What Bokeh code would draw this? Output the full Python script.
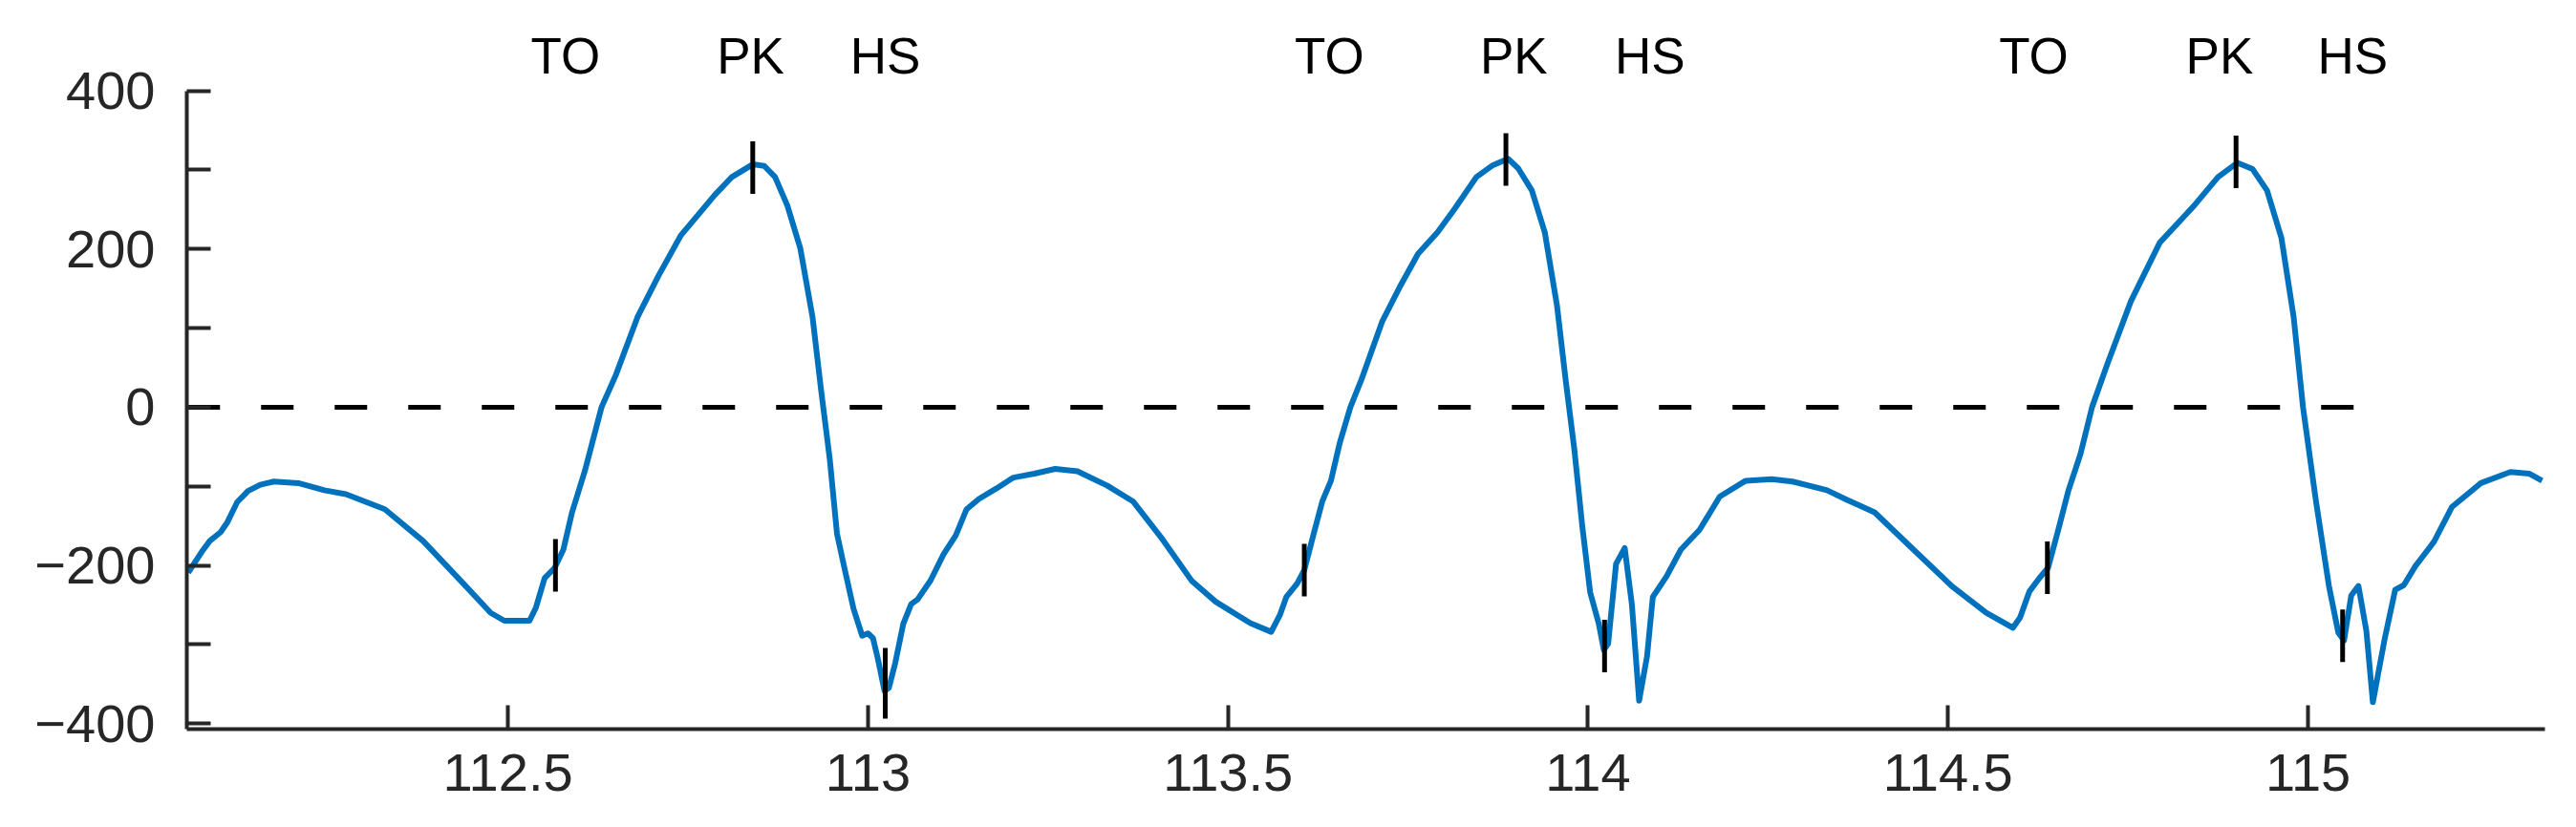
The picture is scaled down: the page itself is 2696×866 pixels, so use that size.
import math
from bokeh.plotting import figure
from bokeh.models import FixedTicker, Range1d, ColumnDataSource
from bokeh.core.properties import value
from bokeh.embed import file_html
from bokeh.resources import INLINE

# ---------------- data ----------------
time_s = [
    112.056, 112.077, 112.086, 112.101, 112.110, 112.124, 112.139, 112.156, 112.175, 112.209,
    112.245, 112.275, 112.329, 112.382, 112.435, 112.476, 112.495, 112.530, 112.539, 112.551,
    112.565, 112.577, 112.589, 112.607, 112.630, 112.650, 112.680, 112.709, 112.740, 112.787,
    112.811, 112.840, 112.856, 112.871, 112.888, 112.906, 112.923, 112.935, 112.947, 112.957,
    112.967, 112.980, 112.992, 113.000, 113.007, 113.014, 113.023, 113.029, 113.038, 113.049,
    113.060, 113.069, 113.087, 113.105, 113.122, 113.137, 113.154, 113.178, 113.202, 113.231,
    113.260, 113.291, 113.332, 113.368, 113.409, 113.450, 113.483, 113.531, 113.560, 113.572,
    113.581, 113.596, 113.606, 113.619, 113.631, 113.643, 113.655, 113.670, 113.685, 113.714,
    113.738, 113.764, 113.791, 113.815, 113.845, 113.868, 113.889, 113.903, 113.922, 113.940,
    113.957, 113.969, 113.981, 113.992, 114.003, 114.015, 114.022, 114.028, 114.039, 114.051,
    114.061, 114.071, 114.082, 114.090, 114.109, 114.129, 114.155, 114.183, 114.219, 114.255,
    114.284, 114.332, 114.357, 114.398, 114.452, 114.505, 114.553, 114.590, 114.600, 114.613,
    114.627, 114.639, 114.654, 114.667, 114.684, 114.700, 114.721, 114.754, 114.794, 114.842,
    114.875, 114.902, 114.923, 114.943, 114.963, 114.980, 114.993, 115.011, 115.029, 115.042,
    115.050, 115.060, 115.070, 115.081, 115.090, 115.106, 115.121, 115.133, 115.149, 115.175,
    115.200, 115.240, 115.281, 115.307, 115.325,
]
signal = [
    -209, -180, -169, -158, -146, -120, -106, -98, -94, -96,
    -105, -110, -129, -169, -220, -260, -270, -270, -253, -216,
    -203, -180, -133, -80, 0, 41, 114, 166, 217, 268,
    291, 307, 305, 291, 255, 201, 114, 21, -66, -160,
    -202, -255, -289, -286, -292, -319, -359, -355, -323, -274,
    -249, -243, -219, -186, -162, -129, -116, -103, -89, -84,
    -78, -81, -99, -119, -167, -220, -246, -273, -284, -263,
    -240, -223, -206, -160, -119, -93, -46, 0, 34, 108,
    151, 194, 221, 251, 291, 306, 314, 302, 274, 221,
    128, 34, -53, -150, -234, -274, -307, -299, -198, -178,
    -250, -371, -315, -240, -214, -180, -155, -113, -93, -91,
    -94, -105, -116, -133, -180, -226, -260, -279, -266, -233,
    -216, -203, -152, -106, -59, 0, 54, 134, 208, 255,
    291, 309, 301, 274, 214, 114, 0, -119, -226, -285,
    -295, -238, -226, -283, -373, -295, -231, -225, -201, -170,
    -126, -96, -82, -84, -93,
]

# gait events: toe-off (TO), peak (PK), heel-strike (HS)
to_time = [112.566, 113.606, 114.638]
to_value = [-200, -206, -203]
pk_time = [112.840, 113.886, 114.900]
pk_value = [303, 313, 310]
hs_time = [113.024, 114.023, 115.048]
hs_value = [-349, -302, -289]

event_names = ["TO", "PK", "HS", "TO", "PK", "HS", "TO", "PK", "HS"]
event_label_x = [112.580, 112.837, 113.024, 113.641, 113.897, 114.086, 114.619, 114.877, 115.062]

zero_line_x = [112.055, 115.064]
zero_line_y = [0, 0]

x_ticks = [112.5, 113.0, 113.5, 114.0, 114.5, 115.0]
x_tick_labels = ["112.5", "113", "113.5", "114", "114.5", "115"]
y_ticks = [-400, -300, -200, -100, 0, 100, 200, 300, 400]
y_tick_labels = ["\u2212400", "", "\u2212200", "", "0", "", "200", "", "400"]

# ---------------- figure ----------------
FONT = "Liberation Sans"
AX = "#262626"

p = figure(
    width=2696, height=866,
    x_range=Range1d(112.054, 115.329),
    y_range=Range1d(-407, 490),
    output_backend="svg", toolbar_location=None,
    min_border_left=195, min_border_right=33,
    min_border_top=20, min_border_bottom=103,
)
p.outline_line_color = None
p.xgrid.visible = False
p.ygrid.visible = False
p.background_fill_color = "white"
p.border_fill_color = "white"

# zero reference line
p.line(zero_line_x, zero_line_y, line_color="black", line_width=5, line_dash="34 43")

# signal
p.line(time_s, signal, line_color="#0072BD", line_width=6, line_join="round")

# event bars
ev_t = to_time + pk_time + hs_time
ev_v = to_value + pk_value + hs_value
sizes = [55] * len(ev_t)
sizes[len(to_time) + len(pk_time)] = 74  # first HS bar is drawn longer
src = ColumnDataSource(dict(x=ev_t, y=ev_v, s=sizes))
p.scatter("x", "y", source=src, marker="dash", angle=math.pi / 2, size="s",
          line_color="black", line_width=5)

# event labels above the axes
label_y = [444] * len(event_names)
p.text(x=event_label_x, y=label_y, text=event_names,
       text_align="center", text_baseline="middle",
       text_font=value(FONT), text_font_size="53px", text_color="black")

# axes styling
for ax in (p.xaxis[0], p.yaxis[0]):
    ax.axis_line_color = AX
    ax.axis_line_width = 4
    ax.major_tick_line_color = AX
    ax.major_tick_line_width = 4
    ax.major_tick_in = 25
    ax.major_tick_out = 0
    ax.minor_tick_line_color = None
    ax.major_label_text_font = FONT
    ax.major_label_text_font_size = "56px"
    ax.major_label_text_color = AX

p.xaxis.ticker = FixedTicker(ticks=x_ticks)
p.xaxis.major_label_overrides = dict(zip(x_ticks, x_tick_labels))
p.xaxis.major_label_standoff = 26

p.yaxis.ticker = FixedTicker(ticks=y_ticks)
p.yaxis.major_label_overrides = dict(zip(y_ticks, y_tick_labels))
p.yaxis.major_label_standoff = 33
p.yaxis.bounds = (-407, 400)

open("out.html", "w").write(file_html(p, INLINE))
